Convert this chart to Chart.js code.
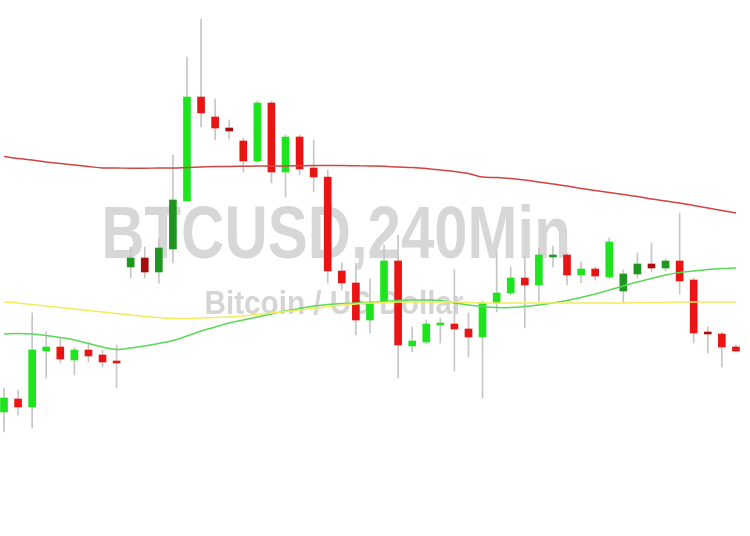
<!DOCTYPE html>
<html>
<head>
<meta charset="utf-8">
<script src="https://cdn.jsdelivr.net/npm/chart.js@4.4.0/dist/chart.umd.min.js"></script>
<style>
  html, body { margin: 0; padding: 0; background: #fff; }
  #wrap { width: 750px; height: 536px; position: relative; }
</style>
</head>
<body>
<div id="wrap"><canvas id="btcChart"></canvas></div>
<script>
// BTCUSD 4h candles, oldest first
var opens = [26352, 26404, 26372, 26596, 26612, 26560, 26600, 26580, 26556, 26932,
  26968, 26912, 27004, 27196, 27612, 27532, 27488, 27436, 27356, 27588,
  27312, 27452, 27328, 27292, 26916, 26868, 26720, 26796, 26956, 26616,
  26632, 26700, 26704, 26684, 26652, 26788, 26828, 26888, 26860, 26972,
  26980, 26900, 26924, 26892, 26836, 26904, 26944, 26928, 26956, 26880,
  26672, 26664, 26612];
var highs = [26448, 26440, 26748, 26672, 26648, 26608, 26632, 26600, 26620, 27012,
  27012, 27044, 27380, 27772, 27924, 27604, 27520, 27448, 27596, 27596,
  27460, 27460, 27440, 27320, 26948, 26948, 26884, 27020, 27060, 26692,
  26720, 26728, 26920, 26748, 26796, 26992, 26932, 26972, 27008, 27016,
  26988, 26952, 26932, 27048, 26920, 26988, 27028, 26964, 27148, 26888,
  26692, 26672, 26620];
var lows = [26272, 26340, 26288, 26488, 26548, 26500, 26552, 26532, 26448, 26888,
  26888, 26868, 26948, 27196, 27492, 27440, 27444, 27312, 27348, 27268,
  27212, 27300, 27232, 26868, 26840, 26660, 26668, 26788, 26488, 26592,
  26624, 26628, 26516, 26572, 26408, 26752, 26820, 26688, 26792, 26932,
  26860, 26868, 26880, 26884, 26792, 26888, 26912, 26916, 26824, 26628,
  26588, 26532, 26592];
var closes = [26408, 26372, 26600, 26612, 26564, 26600, 26576, 26552, 26548, 26968,
  26912, 27008, 27200, 27612, 27548, 27488, 27476, 27356, 27588, 27312,
  27452, 27324, 27292, 26916, 26868, 26720, 26792, 26956, 26620, 26636,
  26704, 26708, 26684, 26652, 26788, 26828, 26888, 26860, 26980, 26976,
  26900, 26924, 26896, 27032, 26904, 26944, 26928, 26956, 26876, 26668,
  26664, 26612, 26596];

// moving averages
var maSlow = [27374, 27366, 27360, 27352, 27346, 27340, 27334, 27328, 27328, 27327,
  27327, 27328, 27328, 27330, 27332, 27334, 27334, 27335, 27336, 27336,
  27336, 27337, 27338, 27338, 27338, 27337, 27336, 27335, 27332, 27330,
  27326, 27320, 27314, 27306, 27292, 27290, 27286, 27280, 27272, 27264,
  27256, 27246, 27238, 27230, 27222, 27214, 27204, 27196, 27188, 27178,
  27168, 27158, 27148];
var maMid = [26792, 26788, 26782, 26776, 26770, 26764, 26758, 26752, 26746, 26740,
  26734, 26730, 26726, 26726, 26728, 26730, 26732, 26736, 26742, 26748,
  26754, 26760, 26766, 26774, 26780, 26784, 26788, 26790, 26792, 26792,
  26792, 26792, 26792, 26790, 26788, 26788, 26788, 26788, 26788, 26788,
  26788, 26788, 26788, 26788, 26788, 26790, 26790, 26790, 26792, 26792,
  26792, 26792, 26792];
var maFast = [26664, 26666, 26664, 26658, 26650, 26640, 26626, 26612, 26602, 26608,
  26616, 26626, 26638, 26656, 26676, 26692, 26708, 26720, 26732, 26744,
  26756, 26766, 26776, 26782, 26786, 26788, 26790, 26794, 26798, 26800,
  26800, 26798, 26788, 26780, 26774, 26770, 26770, 26774, 26780, 26788,
  26798, 26810, 26824, 26840, 26856, 26872, 26886, 26900, 26910, 26916,
  26922, 26926, 26928];

// candles drawn in the darker shade
var darkCandles = [9, 10, 11, 12, 16, 39, 44, 45, 46, 47, 50];

function candleColor(ctx) {
  var i = ctx.dataIndex;
  var up = closes[i] >= opens[i];
  var dark = darkCandles.indexOf(i) >= 0;
  if (up) return dark ? '#1f961f' : '#1ee41e';
  return dark ? '#a80c0c' : '#ea1414';
}

var bodies = opens.map(function (o, i) { return { x: i, y: [o, closes[i]] }; });
var wicks = lows.map(function (l, i) { return { x: i, y: [l, highs[i]] }; });
function toLine(arr) { return arr.map(function (v, i) { return { x: i, y: v }; }); }

var watermark = {
  id: 'watermark',
  beforeDatasetsDraw: function (chart) {
    var c = chart.ctx;
    c.save();
    c.textAlign = 'center';
    c.textBaseline = 'alphabetic';
    c.fillStyle = '#d7d7d7';
    c.translate(336, 258);
    c.scale(0.81, 1);
    c.font = 'bold 74px "Liberation Sans", Arial, sans-serif';
    c.fillText('BTCUSD,240Min', 0, 0);
    c.restore();
    c.save();
    c.textAlign = 'center';
    c.fillStyle = '#d5d5d5';
    c.translate(334, 314);
    c.scale(0.9, 1);
    c.font = 'bold 33px "Liberation Sans", Arial, sans-serif';
    c.fillText('Bitcoin / US Dollar', 0, 0);
    c.restore();
  }
};

new Chart('btcChart', {
  type: 'bar',
  data: {
    datasets: [
      { type: 'line', data: toLine(maSlow), borderColor: '#d04444', borderWidth: 1.5, pointRadius: 0, tension: 0.4, order: 0 },
      { type: 'line', data: toLine(maMid), borderColor: '#f2ec5a', borderWidth: 1.5, pointRadius: 0, tension: 0.4, order: 0 },
      { type: 'line', data: toLine(maFast), borderColor: '#5ad85a', borderWidth: 1.5, pointRadius: 0, tension: 0.4, order: 0 },
      { data: bodies, backgroundColor: candleColor, barThickness: 7, minBarLength: 2, grouped: false, order: 1 },
      { data: wicks, backgroundColor: '#c6c6c6', barThickness: 1, grouped: false, order: 2 }
    ]
  },
  options: {
    responsive: true,
    maintainAspectRatio: false,
    animation: false,
    layout: { padding: 0 },
    plugins: {
      legend: { display: false },
      tooltip: { enabled: false }
    },
    scales: {
      x: { type: 'linear', min: -0.284, max: 53.0, offset: false, display: false },
      y: { min: 25856, max: 28000, display: false }
    }
  },
  plugins: [watermark]
});
</script>
</body>
</html>
